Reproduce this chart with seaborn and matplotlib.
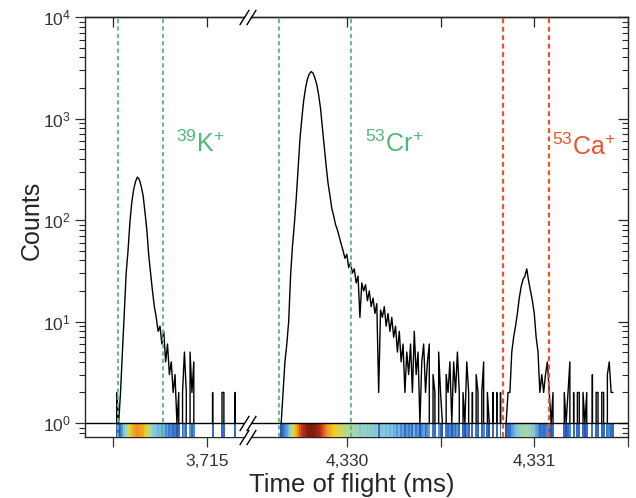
import numpy as np
import pandas as pd
import matplotlib
matplotlib.use('Agg')
import matplotlib.pyplot as plt
import matplotlib.colors as mcolors
import seaborn as sns

# counts per 0.01 ms bin, first bin centred at k_start / cr_start
bin_width = 0.01
k_start = 3714.51
k_counts = [0, 2, 1, 2, 5, 12, 30, 50, 95, 150,
            200, 240, 265, 250, 215, 175, 120, 80, 45, 30,
            20, 14, 11, 8, 9, 6, 8, 4, 6, 3,
            4, 2, 3, 1, 2, 0, 2, 5, 2, 0,
            5, 2, 4, 0, 0, 0, 0, 0, 0, 0,
            0, 0, 2, 0, 0, 0, 0, 2, 2, 0,
            0, 0, 0, 0, 2, 0, 0, 0, 0]
cr_start = 4329.63
cr_counts = [0, 0, 1, 2, 4, 6, 10, 28, 55, 90,
             160, 320, 620, 1000, 1500, 2000, 2450, 2750, 2900, 2800,
             2500, 2150, 1700, 1250, 800, 520, 340, 230, 175, 130,
             110, 90, 80, 68, 58, 50, 42, 46, 34, 38,
             30, 33, 24, 28, 11, 24, 20, 23, 16, 20,
             14, 17, 12, 15, 2, 13, 11, 14, 9, 12,
             8, 11, 7, 9, 5, 8, 4, 6, 2, 5,
             3, 6, 2, 8, 3, 5, 1, 4, 6, 2,
             4, 6, 0, 3, 2, 0, 5, 2, 1, 0,
             3, 2, 4, 1, 4, 2, 5, 2, 0, 2,
             1, 4, 2, 0, 2, 0, 3, 2, 0, 2,
             4, 0, 2, 1, 0, 2, 0, 2, 0, 2,
             0, 0, 1, 2, 2, 5, 7, 9, 12, 17,
             22, 26, 28, 33, 25, 20, 16, 12, 7, 5,
             2, 3, 2, 3, 4, 2, 1, 2, 0, 0,
             0, 0, 0, 2, 1, 2, 4, 0, 2, 0,
             2, 2, 0, 2, 1, 2, 0, 0, 3, 0,
             2, 2, 0, 2, 2, 0, 3, 4, 2, 2]

# gate positions (ms)
k_gate = [3714.527, 3714.766]
cr_gate = [4329.638, 4330.021]
ca_gate = [4330.835, 4331.080]

left_ticks = [3714.5, 3715.0]
left_ticklabels = ['', '3,715']
right_ticks = [4330.0, 4330.5, 4331.0, 4331.5]
right_ticklabels = ['4,330', '', '4,331', '']

green = '#4fb874'
green_line = '#5cc282'
red = '#e4572e'
y_floor = 0.728

sns.set_style('ticks')
plt.rcParams['font.family'] = ['Liberation Sans', 'DejaVu Sans']

cmap = mcolors.LinearSegmentedColormap.from_list(
    'strip', ['#2c55b8', '#3c7bd0', '#78c4e6', '#a6d8a8',
              '#f4d11e', '#ef8a22', '#c8361a', '#7c1c0c'])
cmap.set_bad('white')
norm = mcolors.LogNorm(vmin=1, vmax=3000)

fig = plt.figure(figsize=(6.36, 4.98), dpi=100)
ax1 = fig.add_axes([85 / 636, 61 / 498, 159 / 636, 420 / 498])
ax2 = fig.add_axes([251 / 636, 61 / 498, 377 / 636, 420 / 498])


def draw_segment(ax, start, counts):
    t = start + bin_width * np.arange(len(counts))
    df = pd.DataFrame({'t': t, 'counts': counts})
    sns.lineplot(data=df, x='t', y='counts', ax=ax, color='black',
                 lw=1.0, estimator=None, zorder=2)
    edges = np.append(t - bin_width / 2, t[-1] + bin_width / 2)
    c = np.ma.masked_equal(np.array(counts, dtype=float), 0)
    ax.pcolormesh(edges, [y_floor, 1], c[None, :], cmap=cmap, norm=norm,
                  zorder=3)
    ax.set_yscale('log')
    ax.set_ylim(y_floor, 1e4)
    ax.axhline(1, color='black', lw=1.0, zorder=4)
    ax.set_xlabel('')
    ax.set_ylabel('')


draw_segment(ax1, k_start, k_counts)
draw_segment(ax2, cr_start, cr_counts)

ax1.set_xlim(3714.351, 3715.197)
ax2.set_xlim(4329.489, 4331.5)

dash = (0, (2.2, 1.6))
for x in k_gate:
    ax1.axvline(x, color=green_line, lw=1.4, ls=dash, zorder=5)
for x in cr_gate:
    ax2.axvline(x, color=green_line, lw=1.4, ls=dash, zorder=5)
for x in ca_gate:
    ax2.axvline(x, color=red, lw=1.6, ls=dash, zorder=5)

ax1.text(3714.835, 468, '$\\mathdefault{^{39}K^{+}}$', color=green,
         fontsize=18, va='baseline', ha='left')
ax2.text(4330.096, 468, '$\\mathdefault{^{53}Cr^{+}}$', color=green,
         fontsize=18, va='baseline', ha='left')
ax2.text(4331.096, 437, '$\\mathdefault{^{53}Ca^{+}}$', color=red,
         fontsize=18, va='baseline', ha='left')

for ax, ticks, labels in [(ax1, left_ticks, left_ticklabels),
                          (ax2, right_ticks, right_ticklabels)]:
    ax.set_xticks(ticks)
    ax.set_xticklabels(labels)
    ax.tick_params(axis='x', direction='out', length=7, width=0.9,
                   labelsize=12.5, colors='#333333', pad=5)
    top = ax.secondary_xaxis('top')
    top.set_xticks(ticks)
    top.set_xticklabels([])
    top.tick_params(direction='in', length=7, width=0.9)
    top.spines['top'].set_linewidth(1.0)
    for s in ax.spines.values():
        s.set_linewidth(1.0)

ax1.spines['right'].set_visible(False)
ax2.spines['left'].set_visible(False)
ax1.tick_params(axis='y', which='major', direction='out', length=7,
                width=0.9, labelsize=12.5, colors='#333333')
ax1.tick_params(axis='y', which='minor', direction='out', length=4,
                width=0.8)
ax2.yaxis.tick_right()
ax2.tick_params(axis='y', which='major', direction='in', length=7,
                width=0.9, labelright=False)
ax2.tick_params(axis='y', which='minor', direction='in', length=4,
                width=0.8, labelright=False)

# break marks
one_frac = np.log10(1 / y_floor) / np.log10(1e4 / y_floor)
mk = dict(marker=[(-1, -1.6), (1, 1.6)], markersize=11, linestyle='none',
          color='black', mec='black', mew=1.0, clip_on=False, zorder=6)
for y in [0, 1, one_frac]:
    ax1.plot([1], [y], transform=ax1.transAxes, **mk)
    ax2.plot([0], [y], transform=ax2.transAxes, **mk)

fig.text(32 / 636, 1 - 220 / 498, 'Counts', rotation=90, ha='center',
         va='center', fontsize=18)
fig.text(352 / 636, 1 - 485 / 498, 'Time of flight (ms)', ha='center',
         va='center', fontsize=18.5)

fig.savefig('out.png', dpi=100)
